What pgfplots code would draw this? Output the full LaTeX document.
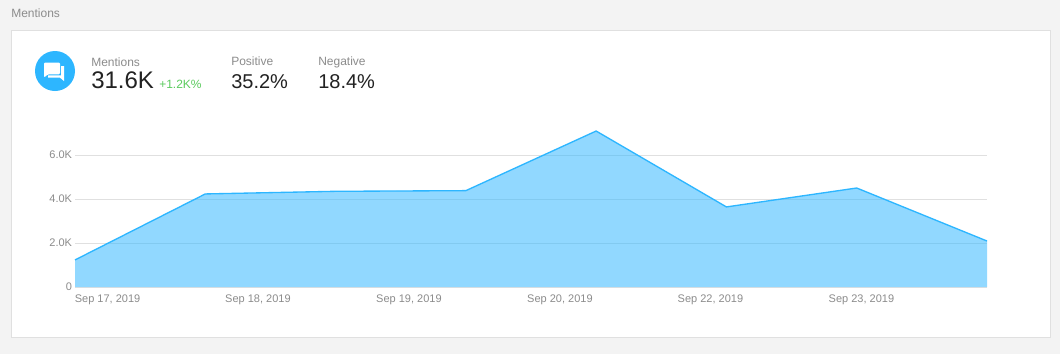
\documentclass[border=0pt]{standalone}
\usepackage{pgfplots}
\pgfplotsset{compat=1.18}
\usepackage{fontspec}
\setmainfont{Liberation Sans}
\definecolor{bg}{HTML}{F3F3F3}
\definecolor{frame}{HTML}{E0E0E0}
\definecolor{blue}{HTML}{2DB6FF}
\definecolor{lab}{HTML}{8C8C8C}
\definecolor{big}{HTML}{222222}
\definecolor{up}{HTML}{5CCB5F}
\pgfplotstableread{
x y
0 1.23
1 4.23
2 4.35
3 4.38
4 7.09
5 3.64
6 4.50
7 2.09
}\mentions
\begin{document}
\begin{tikzpicture}
\begin{scope}[x=0.75pt,y=-0.75pt]
\fill[bg] (0,0) rectangle (1060,354);
\filldraw[fill=white,draw=frame,line width=0.75pt] (11.5,30.5) rectangle (1050.5,337.5);
\node[anchor=base west,inner sep=0,font=\fontsize{9}{11}\selectfont,text=lab] at (11,17) {Mentions};
% icon
\fill[blue] (55,71) circle (20);
\fill[white,rounded corners=0.8pt] (44,62.5) -- (60,62.5) -- (60,74.3) -- (48,74.3) -- (44,77.5) -- cycle;
\fill[white] (61,66) -- (64,66) -- (64,81) -- (60,77.7) -- (48,77.7) -- (48,75.4) -- (61,75.4) -- cycle;
\begin{scope}[every node/.style={anchor=base west,inner sep=0}]
\node[font=\fontsize{9}{11}\selectfont,text=lab] at (91,66) {Mentions};
\node[font=\fontsize{18}{22}\selectfont,text=big] at (91,88.7) {31.6K};
\node[font=\fontsize{9}{11}\selectfont,text=up] at (159,88.7) {+1.2K\%};
\node[font=\fontsize{9}{11}\selectfont,text=lab] at (231,65.5) {Positive};
\node[font=\fontsize{15}{18}\selectfont,text=big] at (231,88.5) {35.2\%};
\node[font=\fontsize{9}{11}\selectfont,text=lab] at (318,65.5) {Negative};
\node[font=\fontsize{15}{18}\selectfont,text=big] at (318,88.5) {18.4\%};
\end{scope}
\end{scope}
\begin{axis}[
  at={(56.25pt,-215.25pt)},anchor=south west,
  scale only axis,
  width=684pt,height=123.75pt,
  xmin=0,xmax=7,ymin=0,ymax=7.5,
  axis line style={draw=none},
  major tick length=0pt,
  clip=false,
  ymajorgrids,
  grid style={frame,line width=0.75pt},
  xtick={0.25,1.404,2.563,3.722,4.877,6.036},
  xticklabels={{Sep 17, 2019},{Sep 18, 2019},{Sep 19, 2019},{Sep 20, 2019},{Sep 22, 2019},{Sep 23, 2019}},
  ytick={0,2,4,6},
  yticklabels={0,2.0K,4.0K,6.0K},
  tick label style={font=\fontsize{8.25}{10}\selectfont,text=lab},
  xticklabel style={anchor=base,yshift=-11.25pt,inner sep=0},
  yticklabel style={anchor=east,xshift=-2pt,inner sep=0pt},
]
\addplot[draw=none,fill=blue,fill opacity=0.52] table[x=x,y=y] {\mentions} \closedcycle;
\addplot[blue,line width=1pt,line join=round] table[x=x,y=y] {\mentions};
\end{axis}
\end{tikzpicture}
\end{document}
